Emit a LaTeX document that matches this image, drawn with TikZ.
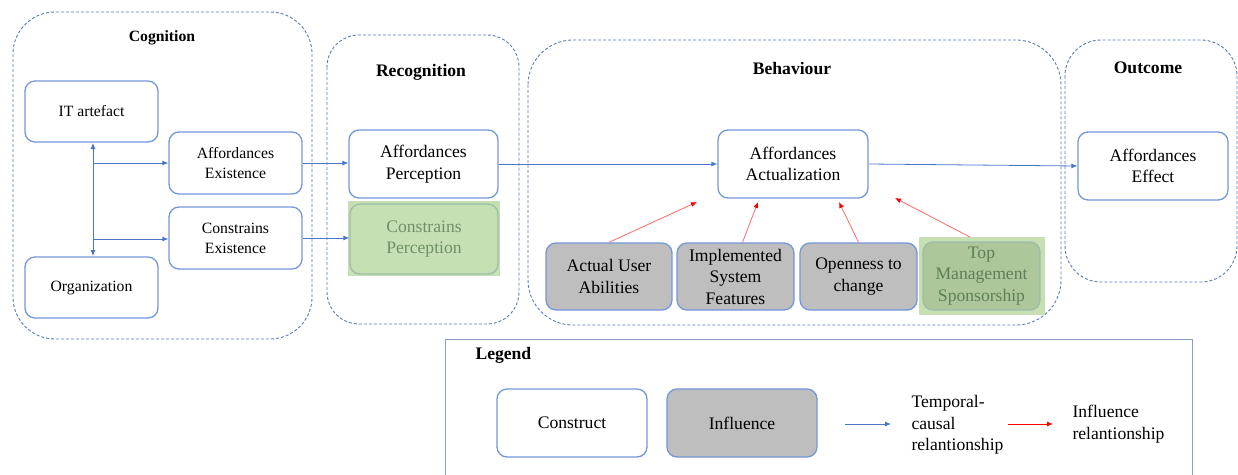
\documentclass[tikz,border=0pt]{standalone}
\usepackage{fontspec}
\setmainfont{Liberation Serif}
\usetikzlibrary{arrows.meta,calc}
\definecolor{boxblue}{HTML}{7397DA}
\definecolor{arrblue}{HTML}{4A76C8}
\definecolor{contblue}{HTML}{5B7CB8}
\definecolor{grayfill}{HTML}{BEBEBE}
\definecolor{hlgreen}{HTML}{C6E0B4}
\definecolor{tmsfill}{HTML}{ADC79A}
\definecolor{tmsborder}{HTML}{9CBDA6}
\definecolor{tmstext}{HTML}{5E7F55}
\definecolor{cptext}{HTML}{6F8F66}
\definecolor{redline}{HTML}{FF6B6B}
\definecolor{legborder}{HTML}{8A9FC8}
\tikzset{
  boxtext/.style={font=\fontsize{17.6}{21.5}\selectfont, align=center},
  smalltext/.style={font=\fontsize{15.7}{20}\selectfont},
  construct/.style={boxtext, draw=boxblue, line width=1.3pt, rounded corners=10pt, fill=white, inner sep=1pt},
  influencebox/.style={construct, fill=grayfill},
  container/.style={draw=contblue, line width=0.9pt, dash pattern=on 3pt off 2pt},
  grouptitle/.style={font=\fontsize{17.6}{21.5}\selectfont\bfseries},
  arr/.style={draw=arrblue, line width=0.8pt, -{Latex[length=6pt,width=5pt]}},
  biarr/.style={draw=arrblue, line width=0.8pt, {Latex[length=6pt,width=5pt]}-{Latex[length=6pt,width=5pt]}},
  redarr/.style={draw=redline, line width=0.8pt, -{Latex[length=6pt,width=5pt,color=red]}},
  legtext/.style={font=\fontsize{17.6}{21.5}\selectfont, align=left, anchor=west}
}
\begin{document}
\begin{tikzpicture}[x=1pt,y=-1pt]
\useasboundingbox (0,0) rectangle (1238,474);
\clip (0,0) rectangle (1238,474);
\fill[white] (0,0) rectangle (1238,474);

% containers
\draw[container, rounded corners=42pt] (13,12) rectangle (312,339);
\draw[container, rounded corners=32pt] (327,35) rectangle (519,324);
\draw[container, rounded corners=45pt] (528,40) rectangle (1061,325);
\draw[container, rounded corners=36pt] (1065,40) rectangle (1237,282);

% titles
\node[grouptitle, font=\fontsize{15.7}{20}\selectfont\bfseries] (tcog) at (162,38) {Cognition};
\node[grouptitle] (trec) at (421,72) {Recognition};
\node[grouptitle] (tbeh) at (792,68) {Behaviour};
\node[grouptitle] (tout) at (1148,68) {Outcome};

% green highlights
\fill[hlgreen] (348,201) rectangle (500,276);
\fill[hlgreen] (919,237) rectangle (1045,315);

% cognition nodes
\node[construct, smalltext, minimum width=133pt, minimum height=61pt] (it) at (91.5,111.5) {IT artefact};
\node[construct, smalltext, minimum width=133pt, minimum height=61pt] (org) at (91.5,287.5) {Organization};
\node[construct, smalltext, minimum width=133pt, minimum height=62pt] (affex) at (235.5,163) {Affordances\\Existence};
\node[construct, smalltext, minimum width=133pt, minimum height=62pt] (conex) at (235.5,238) {Constrains\\Existence};

% recognition nodes
\node[construct, minimum width=149pt, minimum height=68pt] (affper) at (423.5,164) {Affordances\\Perception};
\node[construct, draw=tmsborder, fill=hlgreen, text=cptext, minimum width=148pt, minimum height=70pt] (conper) at (424,239) {Constrains\\Perception};

% behaviour nodes
\node[construct, minimum width=150pt, minimum height=68pt] (affact) at (793,164) {Affordances\\Actualization};
\node[influencebox, minimum width=126pt, minimum height=67pt] (aua) at (609,276.5) {Actual User\\Abilities};
\node[influencebox, minimum width=117pt, minimum height=67pt] (isf) at (735.5,276.5) {Implemented\\System\\Features};
\node[influencebox, minimum width=117pt, minimum height=67pt] (otc) at (858.5,276.5) {Openness to\\change};
\node[construct, draw=tmsborder, fill=tmsfill, text=tmstext, minimum width=117pt, minimum height=68pt] (tms) at (981.5,276) {Top\\Management\\Sponsorship};

% outcome
\node[construct, minimum width=150pt, minimum height=68pt] (affeff) at (1153,166) {Affordances\\Effect};

% cognition connectors
\coordinate (jtop) at (93,143);
\coordinate (jbot) at (93,256);
\coordinate (j1) at (93,163);
\coordinate (j2) at (93,239);
\draw[biarr] (jtop) -- (jbot);
\draw[arr] (j1) -- (j1 -| affex.west);
\draw[arr] (j2) -- (j2 -| conex.west);

% temporal-causal connectors
\draw[arr] (affex.east) -- (affex.east -| affper.west);
\draw[arr] (conex.east) -- (conex.east -| conper.west);
\draw[arr] (affper.east) -- (affact.west);
\draw[arr] (affact.east) -- (affeff.west);

% influence connectors
\coordinate (t1) at (697,202);
\coordinate (t2) at (758,202);
\coordinate (t3) at (839,202);
\coordinate (t4) at (895,198);
\coordinate (s4) at (970,237);
\draw[redarr] (aua.north) -- (t1);
\draw[redarr] ($(isf.north)+(7,0)$) -- (t2);
\draw[redarr] (otc.north) -- (t3);
\draw[redarr] (s4) -- (t4);

% legend
\draw[draw=legborder, line width=1pt] (445,339) rectangle (1192,490);
\node[grouptitle, anchor=west] (tleg) at (472,355) {Legend};
\node[construct, minimum width=150pt, minimum height=68pt] (lcon) at (572,423) {Construct};
\node[influencebox, minimum width=150pt, minimum height=68pt] (linf) at (742,423) {Influence};
\coordinate (lb1) at (845,424);
\coordinate (lb2) at (891,424);
\coordinate (lr1) at (1008,424);
\coordinate (lr2) at (1053,424);
\draw[arr] (lb1) -- (lb2);
\draw[redarr, draw=red] (lr1) -- (lr2);
\node[legtext] (ltc) at (908,425) {Temporal-\\causal\\relantionship};
\node[legtext] (lir) at (1069,424) {Influence\\relantionship};
\end{tikzpicture}
\end{document}
